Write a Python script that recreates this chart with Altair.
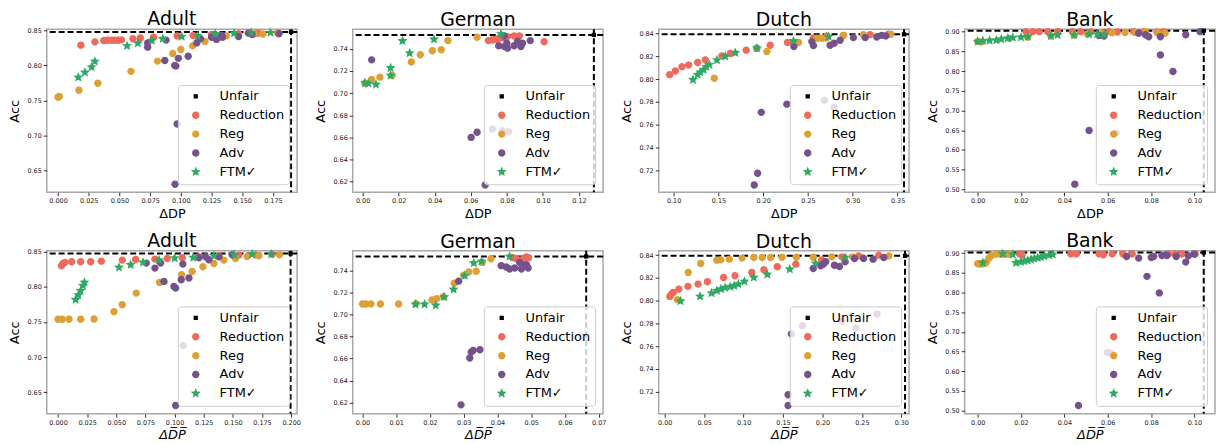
import altair as alt
import pandas as pd

# ---------------- data ----------------
METHODS = ["Unfair", "Reduction", "Reg", "Adv", "FTM✓"]

ADULT1_UNFAIR = [0.1898, 0.8476]
ADULT1_REDUCTION = [(0.0186,0.8288),(0.0300,0.8335),(0.0373,0.8354),(0.0405,0.8358),(0.0435,0.8358),(0.0462,0.8358),(0.0489,0.8358),(0.0516,0.8363),(0.0610,0.8380),(0.0670,0.8390),(0.0778,0.8400),(0.0970,0.8420),(0.1100,0.8425),(0.1250,0.8440),(0.1470,0.8450),(0.1630,0.8458),(0.1790,0.8467)]
ADULT1_REG = [(0.0000,0.7547),(0.0010,0.7557),(0.0170,0.7646),(0.0324,0.7745),(0.0594,0.7915),(0.0810,0.8061),(0.0934,0.8170),(0.1000,0.8226),(0.1096,0.8278),(0.1196,0.8340),(0.1304,0.8390),(0.1370,0.8420),(0.1600,0.8448),(0.1670,0.8448),(0.1790,0.8458)]
ADULT1_ADV = [(0.0730,0.8320),(0.0730,0.8260),(0.0880,0.8360),(0.0870,0.8070),(0.0950,0.8000),(0.0960,0.7990),(0.0980,0.8100),(0.1060,0.8130),(0.1130,0.8320),(0.1160,0.8380),(0.1250,0.8400),(0.1290,0.8370),(0.1330,0.8430),(0.1340,0.8400),(0.1470,0.8410),(0.1550,0.8460),(0.1580,0.8440),(0.1800,0.8450),(0.0970,0.7165),(0.0953,0.6307)]
ADULT1_FTM = [(0.0165,0.7830),(0.0219,0.7900),(0.0273,0.7976),(0.0300,0.8057),(0.0562,0.8278),(0.0650,0.8316),(0.0764,0.8354),(0.0853,0.8380),(0.1007,0.8410),(0.1137,0.8420),(0.1280,0.8448),(0.1434,0.8458),(0.1574,0.8467),(0.1730,0.8467)]

GERMAN1_UNFAIR = [0.1283, 0.7525]
GERMAN1_REDUCTION = [(0.0698,0.7474),(0.0721,0.7480),(0.0740,0.7486),(0.0758,0.7495),(0.0780,0.7500),(0.0804,0.7510),(0.0841,0.7516),(0.0869,0.7516),(0.1007,0.7463)]
GERMAN1_REG = [(0.0013,0.7087),(0.0050,0.7123),(0.0096,0.7144),(0.0164,0.7159),(0.0270,0.7281),(0.0320,0.7346),(0.0387,0.7382),(0.0436,0.7391),(0.0473,0.7474),(0.0635,0.7504)]
GERMAN1_ADV = [(0.0050,0.7300),(0.0602,0.6600),(0.0635,0.6647),(0.0720,0.6676),(0.0777,0.6660),(0.0810,0.6650),(0.0680,0.6170),(0.0755,0.7427),(0.0786,0.7420),(0.0800,0.7450),(0.0786,0.7516),(0.0841,0.7427),(0.0860,0.7466),(0.0878,0.7420),(0.0887,0.7450),(0.0930,0.7474),(0.0804,0.7406)]
GERMAN1_FTM = [(0.0013,0.7093),(0.0031,0.7087),(0.0074,0.7078),(0.0155,0.7227),(0.0155,0.7159),(0.0221,0.7471),(0.0261,0.7361),(0.0396,0.7486),(0.0768,0.7534)]

DUTCH1_UNFAIR = [0.3572, 0.8394]
DUTCH1_REDUCTION = [(0.0955,0.8040),(0.1019,0.8072),(0.1093,0.8110),(0.1167,0.8124),(0.1268,0.8147),(0.1353,0.8170),(0.1539,0.8205),(0.1632,0.8226),(0.1810,0.8255),(0.1929,0.8272),(0.2078,0.8298),(0.2271,0.8322),(0.2561,0.8362),(0.2710,0.8380),(0.2896,0.8385),(0.3193,0.8391),(0.3398,0.8394)]
DUTCH1_REG = [(0.1454,0.8008),(0.2041,0.8243),(0.2394,0.8322),(0.2599,0.8359),(0.2654,0.8359),(0.2703,0.8362),(0.2896,0.8385),(0.3119,0.8391),(0.3424,0.8394)]
DUTCH1_ADV = [(0.1978,0.7709),(0.2264,0.7781),(0.2684,0.7816),(0.2792,0.7752),(0.1900,0.7072),(0.1937,0.7174),(0.2342,0.8287),(0.2543,0.8330),(0.2561,0.8295),(0.2747,0.8298),(0.2792,0.8316),(0.2859,0.8342),(0.3007,0.8365),(0.3138,0.8365),(0.3268,0.8371),(0.3323,0.8385),(0.3368,0.8380)]
DUTCH1_FTM = [(0.1216,0.7996),(0.1268,0.8040),(0.1297,0.8060),(0.1335,0.8083),(0.1364,0.8109),(0.1398,0.8127),(0.1483,0.8168),(0.1576,0.8200),(0.1688,0.8232),(0.1929,0.8272),(0.2338,0.8336),(0.2729,0.8374)]

BANK1_UNFAIR = [0.1043, 0.9025]
BANK1_REDUCTION = [(0.0223,0.900),(0.0254,0.900),(0.0284,0.900),(0.0323,0.900),(0.0369,0.900),(0.0437,0.900),(0.0476,0.900),(0.0521,0.899),(0.0606,0.900),(0.0644,0.899),(0.0720,0.900),(0.0766,0.900),(0.0827,0.899),(0.0858,0.900)]
BANK1_REG = [(0.0000,0.875),(0.0020,0.874),(0.0147,0.883),(0.0231,0.886),(0.0338,0.889),(0.0445,0.891),(0.0506,0.894),(0.0575,0.896),(0.0620,0.897),(0.0680,0.898),(0.0728,0.898),(0.0774,0.899),(0.0830,0.897),(0.0865,0.896)]
BANK1_ADV = [(0.0560,0.890),(0.0583,0.889),(0.0743,0.896),(0.0774,0.892),(0.0789,0.887),(0.0843,0.887),(0.0960,0.892),(0.1026,0.900),(0.0843,0.841),(0.0901,0.799),(0.0514,0.649),(0.0639,0.643),(0.0448,0.513)]
BANK1_FTM = [(0.0000,0.8749),(0.0024,0.8766),(0.0055,0.8774),(0.0086,0.8782),(0.0109,0.8808),(0.0139,0.8833),(0.0162,0.8849),(0.0200,0.8858),(0.0231,0.8874),(0.0338,0.8891),(0.0369,0.8916),(0.0445,0.8916),(0.0514,0.8933),(0.0552,0.8933),(0.0583,0.8916)]

ADULT2_UNFAIR = [0.1995, 0.8476]
ADULT2_REDUCTION = [(0.0029,0.8300),(0.0043,0.8334),(0.0060,0.8348),(0.0117,0.8358),(0.0194,0.8358),(0.0280,0.8358),(0.0371,0.8367),(0.0551,0.8382),(0.0666,0.8391),(0.0831,0.8396),(0.0937,0.8405),(0.1066,0.8415),(0.1209,0.8429),(0.1380,0.8443),(0.1551,0.8453),(0.1694,0.8457),(0.1837,0.8467)]
ADULT2_REG = [(0.0000,0.7538),(0.0037,0.7538),(0.0094,0.7538),(0.0194,0.7538),(0.0309,0.7543),(0.0480,0.7647),(0.0551,0.7746),(0.0671,0.7912),(0.0871,0.8064),(0.1060,0.8173),(0.1151,0.8220),(0.1243,0.8287),(0.1337,0.8334),(0.1423,0.8382),(0.1523,0.8405),(0.1623,0.8434),(0.1723,0.8443),(0.1900,0.8457)]
ADULT2_ADV = [(0.0757,0.8339),(0.0831,0.8268),(0.0880,0.8339),(0.0909,0.8078),(0.0994,0.8007),(0.1009,0.7983),(0.1057,0.8102),(0.1071,0.8325),(0.1123,0.8126),(0.1209,0.8415),(0.1266,0.8429),(0.1294,0.8386),(0.1380,0.8429),(0.1494,0.8457),(0.1074,0.7164),(0.1009,0.6310)]
ADULT2_FTM = [(0.0151,0.7818),(0.0174,0.7884),(0.0194,0.7946),(0.0214,0.8017),(0.0226,0.8064),(0.0523,0.8277),(0.0623,0.8315),(0.0729,0.8348),(0.0866,0.8382),(0.1000,0.8410),(0.1160,0.8419),(0.1337,0.8443),(0.1514,0.8457),(0.1666,0.8467),(0.1829,0.8467)]

GERMAN2_UNFAIR = [0.0663, 0.7529]
GERMAN2_REDUCTION = [(0.0444,0.7520),(0.0455,0.7510),(0.0463,0.7495),(0.0470,0.7490),(0.0478,0.7512),(0.0486,0.7525),(0.0492,0.7518)]
GERMAN2_REG = [(0.0000,0.7097),(0.0010,0.7097),(0.0025,0.7097),(0.0053,0.7097),(0.0107,0.7097),(0.0159,0.7100),(0.0206,0.7133),(0.0220,0.7145),(0.0240,0.7163),(0.0272,0.7286),(0.0300,0.7358),(0.0315,0.7388),(0.0337,0.7394),(0.0355,0.7475),(0.0381,0.7508)]
GERMAN2_ADV = [(0.0285,0.7304),(0.0318,0.6605),(0.0322,0.6659),(0.0328,0.6674),(0.0348,0.6680),(0.0292,0.6179),(0.0411,0.7445),(0.0426,0.7433),(0.0436,0.7415),(0.0451,0.7424),(0.0466,0.7475),(0.0471,0.7415),(0.0478,0.7445),(0.0486,0.7454),(0.0491,0.7424)]
GERMAN2_FTM = [(0.0157,0.7094),(0.0184,0.7094),(0.0217,0.7085),(0.0242,0.7160),(0.0270,0.7229),(0.0303,0.7355),(0.0330,0.7469),(0.0353,0.7484),(0.0436,0.7529)]

DUTCH2_UNFAIR = [0.3047, 0.8394]
DUTCH2_REDUCTION = [(0.0064,0.8038),(0.0085,0.8058),(0.0107,0.8073),(0.0179,0.8102),(0.0294,0.8126),(0.0422,0.8146),(0.0541,0.8166),(0.0746,0.8204),(0.0890,0.8219),(0.1104,0.8248),(0.1257,0.8272),(0.1427,0.8298),(0.1662,0.8321),(0.1990,0.8359),(0.2245,0.8385),(0.2458,0.8394),(0.2714,0.8400)]
DUTCH2_REG = [(0.0158,0.8009),(0.0298,0.8248),(0.0456,0.8327),(0.0660,0.8356),(0.0712,0.8359),(0.0818,0.8365),(0.0980,0.8374),(0.1129,0.8380),(0.1236,0.8380),(0.1342,0.8380),(0.1487,0.8382),(0.1670,0.8382),(0.1883,0.8382),(0.2118,0.8385),(0.2382,0.8385),(0.2842,0.8394)]
DUTCH2_ADV = [(0.1606,0.7708),(0.1747,0.7781),(0.2245,0.7819),(0.2424,0.7758),(0.2693,0.7883),(0.1564,0.7174),(0.1564,0.7080),(0.1883,0.8283),(0.1977,0.8307),(0.2011,0.8321),(0.2041,0.8342),(0.2152,0.8312),(0.2216,0.8301),(0.2288,0.8342),(0.2407,0.8371),(0.2522,0.8371),(0.2642,0.8365),(0.2778,0.8380)]
DUTCH2_FTM = [(0.0200,0.7997),(0.0447,0.8038),(0.0592,0.8067),(0.0660,0.8088),(0.0712,0.8102),(0.0767,0.8114),(0.0831,0.8123),(0.0882,0.8131),(0.0933,0.8146),(0.1010,0.8169),(0.1129,0.8204),(0.1300,0.8231),(0.1585,0.8277),(0.1913,0.8327),(0.2288,0.8380)]

BANK2_UNFAIR = [0.1043, 0.9017]
BANK2_REDUCTION = [(0.0104,0.898),(0.0135,0.898),(0.0193,0.898),(0.0205,0.8958),(0.0430,0.898),(0.0456,0.898),(0.0560,0.898),(0.0580,0.8958),(0.0621,0.898),(0.0670,0.898),(0.0713,0.898),(0.0881,0.898),(0.0911,0.898),(0.0942,0.898),(0.1003,0.898)]
BANK2_REG = [(0.0000,0.873),(0.0008,0.873),(0.0016,0.873),(0.0024,0.873),(0.0032,0.874),(0.0040,0.877),(0.0052,0.8874),(0.0063,0.8941),(0.0086,0.8975),(0.0116,0.8975),(0.0147,0.8975)]
BANK2_ADV = [(0.0687,0.8916),(0.0743,0.8874),(0.0801,0.8890),(0.0812,0.8916),(0.0850,0.8941),(0.0873,0.8941),(0.0916,0.8916),(0.0960,0.8773),(0.0972,0.8933),(0.1000,0.8975),(0.0781,0.8411),(0.0838,0.7990),(0.0598,0.6475),(0.0618,0.6450),(0.0465,0.5128)]
BANK2_FTM = [(0.0024,0.8756),(0.0116,0.8983),(0.0162,0.8966),(0.0177,0.8756),(0.0200,0.8781),(0.0216,0.8798),(0.0231,0.8815),(0.0246,0.8840),(0.0261,0.8865),(0.0277,0.8882),(0.0292,0.8899),(0.0307,0.8924),(0.0330,0.8950),(0.0346,0.8966)]

# tick labels
ADULT1_XTICKS = [0.000, 0.025, 0.050, 0.075, 0.100, 0.125, 0.150, 0.175]
ADULT2_XTICKS = [0.000, 0.025, 0.050, 0.075, 0.100, 0.125, 0.150, 0.175, 0.200]
GERMAN1_XTICKS = [0.00, 0.02, 0.04, 0.06, 0.08, 0.10, 0.12]
GERMAN2_XTICKS = [0.00, 0.01, 0.02, 0.03, 0.04, 0.05, 0.06, 0.07]
DUTCH1_XTICKS = [0.10, 0.15, 0.20, 0.25, 0.30, 0.35]
DUTCH2_XTICKS = [0.00, 0.05, 0.10, 0.15, 0.20, 0.25, 0.30]
BANK_XTICKS = [0.00, 0.02, 0.04, 0.06, 0.08, 0.10]
ADULT_YTICKS = [0.65, 0.70, 0.75, 0.80, 0.85]
GERMAN_YTICKS = [0.62, 0.64, 0.66, 0.68, 0.70, 0.72, 0.74]
DUTCH_YTICKS = [0.72, 0.74, 0.76, 0.78, 0.80, 0.82, 0.84]
BANK_YTICKS = [0.50, 0.55, 0.60, 0.65, 0.70, 0.75, 0.80, 0.85, 0.90]

# ---------------- styling ----------------
COLORS = ["#000000", "#EE6A5B", "#DDA033", "#75528C", "#2EAA64"]
# marker glyphs in a -1..1 box (drawn with one common symbol size)
SQUARE = "M-0.36,-0.36L0.36,-0.36L0.36,0.36L-0.36,0.36Z"
CIRCLE = "M0.62,0A0.62,0.62,0,1,1,-0.62,0A0.62,0.62,0,1,1,0.62,0Z"
STAR = ("M0,-0.88L0.2351,-0.3236L0.8369,-0.2719L0.3804,0.1236L0.5172,0.7119L0,0.40"
        "L-0.5172,0.7119L-0.3804,0.1236L-0.8369,-0.2719L-0.2351,-0.3236Z")
SHAPES = [SQUARE, CIRCLE, CIRCLE, CIRCLE, STAR]
SYM = 144
FONT = "DejaVu Sans"
W, H = 252, 164


def panel(title, unfair, red, reg, adv, ftm, xdom, ydom, xticks, yticks, xfmt, xtitle, italic):
    rows = []
    for name, pts in [("Reduction", red), ("Reg", reg), ("Adv", adv), ("FTM✓", ftm)]:
        for x, y in pts:
            rows.append({"dp": x, "acc": y, "method": name, "o": len(rows)})
    rows.append({"dp": unfair[0], "acc": unfair[1], "method": "Unfair", "o": len(rows)})
    df = pd.DataFrame(rows)

    xs = alt.Scale(domain=xdom, nice=False, zero=False)
    ys = alt.Scale(domain=ydom, nice=False, zero=False)
    xax = alt.Axis(values=xticks, format=xfmt, title=xtitle,
                   titleFontStyle="italic" if italic else "normal")
    yax = alt.Axis(values=yticks, format=".2f", title="Acc")
    leg = alt.Legend(title=None, orient="bottom-right", offset=8,
                     fillColor="rgba(255,255,255,0.8)", strokeColor="#cccccc",
                     cornerRadius=3, padding=5, symbolOffset=6.5, labelOffset=17.5,
                     rowPadding=5, labelFontSize=13, labelFont=FONT, symbolSize=SYM,
                     labelColor="black", symbolStrokeWidth=0, symbolOpacity=1)

    hline = alt.Chart(pd.DataFrame({"acc": [unfair[1]]})).mark_rule(
        color="black", strokeWidth=2, strokeDash=[6, 3]
    ).encode(y=alt.Y("acc:Q", scale=ys, axis=yax))
    vline = alt.Chart(pd.DataFrame({"dp": [unfair[0]]})).mark_rule(
        color="black", strokeWidth=2, strokeDash=[6, 3]
    ).encode(x=alt.X("dp:Q", scale=xs, axis=xax))
    pts = alt.Chart(df).mark_point(filled=True, opacity=1, strokeWidth=0, size=SYM).encode(
        x=alt.X("dp:Q", scale=xs, axis=xax),
        y=alt.Y("acc:Q", scale=ys, axis=yax),
        color=alt.Color("method:N", scale=alt.Scale(domain=METHODS, range=COLORS), legend=leg),
        shape=alt.Shape("method:N", scale=alt.Scale(domain=METHODS, range=SHAPES), legend=leg),
        order=alt.Order("o:Q"),
    )
    return alt.layer(hline, vline, pts).properties(
        width=W, height=H,
        title=alt.TitleParams(text=title, fontSize=19, font=FONT, fontWeight="normal",
                              color="black", offset=-2, anchor="middle"),
    )


T1 = "ΔDP"
T2 = "ΔD\u0305P\u0305"

panels = [
    panel("Adult", ADULT1_UNFAIR, ADULT1_REDUCTION, ADULT1_REG, ADULT1_ADV, ADULT1_FTM,
          [-0.0092, 0.1947], [0.6193, 0.8514], ADULT1_XTICKS, ADULT_YTICKS, ".3f", T1, False),
    panel("German", GERMAN1_UNFAIR, GERMAN1_REDUCTION, GERMAN1_REG, GERMAN1_ADV, GERMAN1_FTM,
          [-0.0055, 0.1334], [0.6105, 0.7576], GERMAN1_XTICKS, GERMAN_YTICKS, ".2f", T1, False),
    panel("Dutch", DUTCH1_UNFAIR, DUTCH1_REDUCTION, DUTCH1_REG, DUTCH1_ADV, DUTCH1_FTM,
          [0.0833, 0.3628], [0.7008, 0.8438], DUTCH1_XTICKS, DUTCH_YTICKS, ".2f", T1, False),
    panel("Bank", BANK1_UNFAIR, BANK1_REDUCTION, BANK1_REG, BANK1_ADV, BANK1_FTM,
          [-0.006, 0.1095], [0.4925, 0.9059], BANK_XTICKS, BANK_YTICKS, ".2f", T1, False),
    panel("Adult", ADULT2_UNFAIR, ADULT2_REDUCTION, ADULT2_REG, ADULT2_ADV, ADULT2_FTM,
          [-0.0097, 0.2051], [0.6192, 0.8514], ADULT2_XTICKS, ADULT_YTICKS, ".3f", T2, True),
    panel("German", GERMAN2_UNFAIR, GERMAN2_REDUCTION, GERMAN2_REG, GERMAN2_ADV, GERMAN2_FTM,
          [-0.0029, 0.0713], [0.6098, 0.7580], GERMAN2_XTICKS, GERMAN_YTICKS, ".2f", T2, True),
    panel("Dutch", DUTCH2_UNFAIR, DUTCH2_REDUCTION, DUTCH2_REG, DUTCH2_ADV, DUTCH2_FTM,
          [-0.0077, 0.3098], [0.7007, 0.8438], DUTCH2_XTICKS, DUTCH_YTICKS, ".2f", T2, True),
    panel("Bank", BANK2_UNFAIR, BANK2_REDUCTION, BANK2_REG, BANK2_ADV, BANK2_FTM,
          [-0.006, 0.1095], [0.4917, 0.9059], BANK_XTICKS, BANK_YTICKS, ".2f", T2, True),
]

chart = alt.concat(
    *panels, columns=4, spacing={"row": 59, "column": 56}, bounds="flush"
).resolve_scale(
    color="independent", shape="independent"
).resolve_legend(
    color="independent", shape="independent"
).properties(
    padding={"left": 0, "top": 0, "right": 0, "bottom": 0}
).configure_view(
    stroke="#a8a8a8", strokeWidth=1.5
).configure_axis(
    domain=False, grid=False, tickColor="#333333", tickSize=3.5, tickWidth=1,
    labelFont=FONT, labelFontSize=6.5, labelColor="#222222", labelPadding=2,
    labelFlush=False, labelOverlap=False,
    titleFont=FONT, titleFontSize=13, titleFontWeight="normal", titleColor="black",
    titlePadding=3,
).configure_axisY(titlePadding=5)

chart.save("out.html", embed_options={"renderer": "svg", "actions": False})
